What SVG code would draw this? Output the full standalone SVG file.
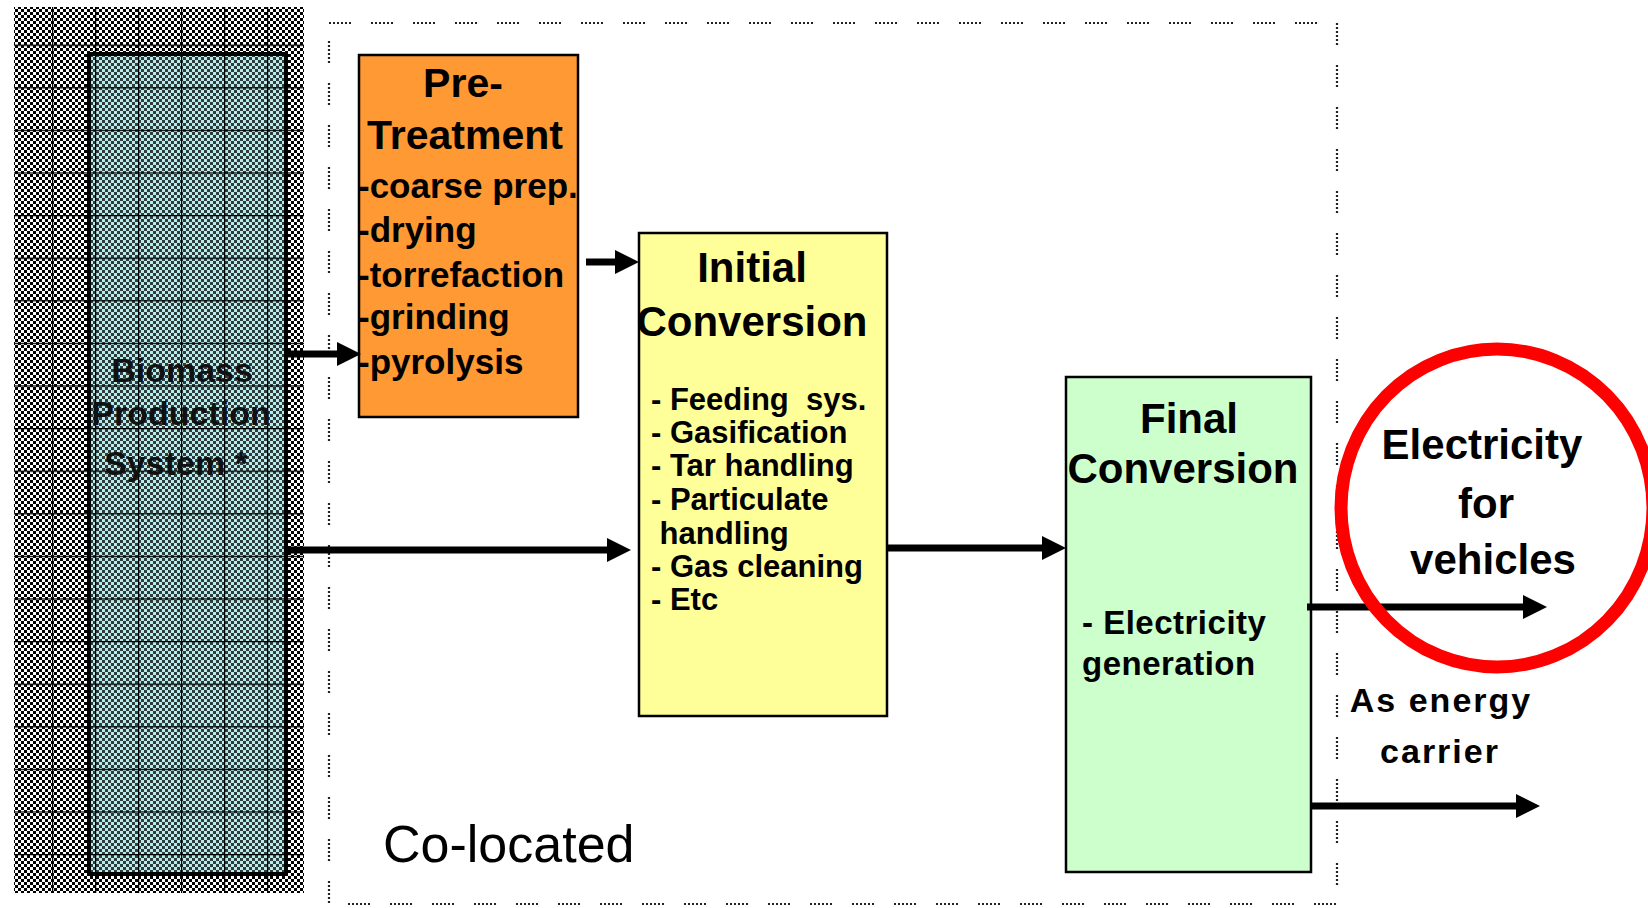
<svg xmlns="http://www.w3.org/2000/svg" width="1648" height="908" viewBox="0 0 1648 908">
<style>
.t{font-family:"Liberation Sans",Arial,sans-serif;font-weight:bold;fill:#000}
.box{stroke:#000;stroke-width:2.5}
.conn{stroke:#000;stroke-width:7;fill:none}
.dot{stroke:#222;stroke-width:2.2;fill:none;stroke-dasharray:2 2 2 2 2 2 2 2 2 2 2 20}
</style>
<defs>
<pattern id="chk" width="6" height="6" patternUnits="userSpaceOnUse">
<rect width="6" height="6" fill="#fff"/>
<rect width="3" height="3" fill="#000"/>
<rect x="3" y="3" width="3" height="3" fill="#000"/>
</pattern>
<pattern id="chkc" width="6" height="6" patternUnits="userSpaceOnUse">
<rect width="6" height="6" fill="#b8ecec"/>
<rect width="3" height="3" fill="#000" opacity="0.75"/>
<rect x="3" y="3" width="3" height="3" fill="#000" opacity="0.75"/>
</pattern>
<pattern id="gridp" x="9" y="2" width="43" height="42.6" patternUnits="userSpaceOnUse">
<path d="M0,0 H43 M0,0 V42.6" stroke="#000" stroke-width="2.5" fill="none"/>
</pattern>
<marker id="ah" viewBox="0 0 24 24" refX="4" refY="12" markerWidth="24" markerHeight="24" markerUnits="userSpaceOnUse" orient="auto">
<path d="M0,0 L24,12 L0,24 z" fill="#000"/>
</marker>
</defs>
<rect width="1648" height="908" fill="#fff"/>

<g id="colocated">
<rect x="329" y="23" width="1008" height="881" class="dot"/>
<text x="383" y="862" style="font-family:'Liberation Sans',Arial,sans-serif;font-size:52px;fill:#000">Co-located</text>
</g>

<g id="biomass">
<rect x="14" y="7" width="290" height="886" fill="url(#chk)"/>
<rect x="14" y="7" width="290" height="886" fill="url(#gridp)"/>
<rect x="89" y="54" width="197" height="820" fill="url(#chkc)"/>
<rect x="89" y="54" width="197" height="820" fill="url(#gridp)"/>
<rect x="89" y="54" width="197" height="820" fill="none" stroke="#000" stroke-width="4"/>
<g class="t" style="font-size:34px;fill:#111" text-anchor="middle">
<text x="182" y="382">Biomass</text>
<text x="181" y="425">Production</text>
<text x="176" y="475">System *</text>
</g>
</g>

<g id="pretreatment">
<rect x="359" y="55" width="219" height="362" fill="#ff9933" class="box"/>
<g class="t" style="font-size:41px" text-anchor="middle">
<text x="463" y="97">Pre-</text>
<text x="465" y="149">Treatment</text>
</g>
<g class="t" style="font-size:35px">
<text x="358" y="198">-coarse prep.</text>
<text x="358" y="242">-drying</text>
<text x="358" y="287">-torrefaction</text>
<text x="358" y="329">-grinding</text>
<text x="358" y="374">-pyrolysis</text>
</g>
</g>

<g id="initial">
<rect x="639" y="233" width="248" height="483" fill="#ffff99" class="box"/>
<g class="t" style="font-size:42px" text-anchor="middle">
<text x="752" y="282">Initial</text>
<text x="752" y="336">Conversion</text>
</g>
<g class="t" style="font-size:31px">
<text x="651" y="410" xml:space="preserve">- Feeding  sys.</text>
<text x="651" y="443">- Gasification</text>
<text x="651" y="476">- Tar handling</text>
<text x="651" y="510">- Particulate</text>
<text x="651" y="544" xml:space="preserve"> handling</text>
<text x="651" y="577">- Gas cleaning</text>
<text x="651" y="610">- Etc</text>
</g>
</g>

<g id="final">
<rect x="1066" y="377" width="245" height="495" fill="#ccffcc" class="box"/>
<g class="t" style="font-size:42px" text-anchor="middle">
<text x="1189" y="433">Final</text>
<text x="1183" y="483">Conversion</text>
</g>
<g class="t" style="font-size:33px;letter-spacing:0.5px">
<text x="1082" y="634">- Electricity</text>
<text x="1082" y="675">generation</text>
</g>
</g>

<g id="connectors">
<path class="conn" d="M286,354 H341" marker-end="url(#ah)"/>
<path class="conn" d="M586,262 H619" marker-end="url(#ah)"/>
<path class="conn" d="M286,550 H611" marker-end="url(#ah)"/>
<path class="conn" d="M888,548 H1046" marker-end="url(#ah)"/>
<path class="conn" d="M1307,607 H1527" marker-end="url(#ah)"/>
<path class="conn" d="M1312,806 H1520" marker-end="url(#ah)"/>
</g>

<g id="electricity">
<ellipse cx="1497" cy="508" rx="156" ry="159" fill="none" stroke="#ff0000" stroke-width="13"/>
<g class="t" style="font-size:42px" text-anchor="middle">
<text x="1482" y="459">Electricity</text>
<text x="1486" y="518">for</text>
<text x="1493" y="574">vehicles</text>
</g>
</g>

<g id="energy-carrier">
<g class="t" style="font-size:34px;letter-spacing:2px" text-anchor="middle">
<text x="1441" y="712">As energy</text>
<text x="1440" y="763">carrier</text>
</g>
</g>
</svg>
